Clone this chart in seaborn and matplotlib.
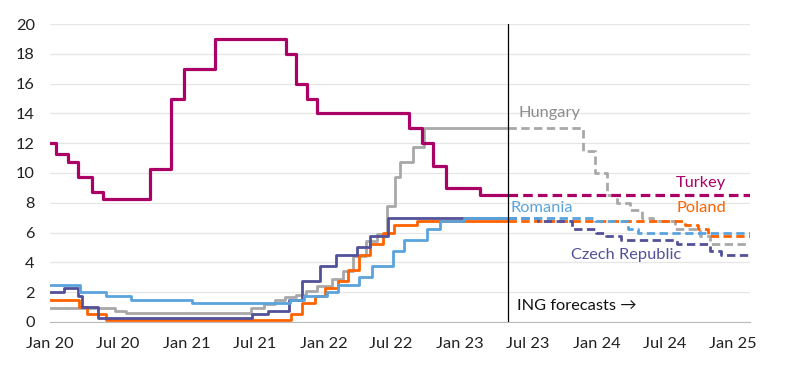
import pandas as pd
import seaborn as sns
import numpy as np
import matplotlib.pyplot as plt
import matplotlib.dates as mdates

# policy rate step changes (date the new rate applies, rate %)
turkey_dates = ['2020-01-01', '2020-01-16', '2020-02-19', '2020-03-17', '2020-04-22', '2020-05-21',
                '2020-09-24', '2020-11-19', '2020-12-24', '2021-03-18', '2021-09-23', '2021-10-21',
                '2021-11-18', '2021-12-16', '2022-08-18', '2022-09-22', '2022-10-20', '2022-11-24',
                '2023-02-23']
turkey_rates = [12.0, 11.25, 10.75, 9.75, 8.75, 8.25, 10.25, 15.0, 17.0, 19.0, 18.0, 16.0,
                15.0, 14.0, 13.0, 12.0, 10.5, 9.0, 8.5]
turkey_fc_dates = []
turkey_fc_rates = []

hungary_dates = ['2020-01-01', '2020-06-23', '2020-07-21', '2021-06-22', '2021-07-27', '2021-08-24',
                 '2021-09-21', '2021-10-19', '2021-11-16', '2021-12-14', '2022-01-25', '2022-02-22',
                 '2022-03-22', '2022-04-26', '2022-05-24', '2022-06-21', '2022-07-12', '2022-07-26',
                 '2022-08-30', '2022-09-27']
hungary_rates = [0.9, 0.75, 0.6, 0.9, 1.2, 1.5, 1.65, 1.8, 2.1, 2.4, 2.9, 3.4,
                 4.4, 5.4, 5.9, 7.75, 9.75, 10.75, 11.75, 13.0]
hungary_fc_dates = ['2023-11-27', '2023-12-28', '2024-01-29', '2024-02-26', '2024-03-31',
                    '2024-05-03', '2024-05-31', '2024-07-29', '2024-10-04', '2024-10-31']
hungary_fc_rates = [11.5, 10.0, 8.5, 8.0, 7.5, 7.0, 6.75, 6.25, 5.75, 5.25]

poland_dates = ['2020-01-01', '2020-03-18', '2020-04-09', '2020-05-29', '2021-10-07', '2021-11-04',
                '2021-12-09', '2022-01-05', '2022-02-09', '2022-03-09', '2022-04-07', '2022-05-06',
                '2022-06-09', '2022-07-08', '2022-09-08']
poland_rates = [1.5, 1.0, 0.5, 0.1, 0.5, 1.25, 1.75, 2.25, 2.75, 3.5, 4.5, 5.25, 6.0, 6.5, 6.75]
poland_fc_dates = ['2024-08-25', '2024-09-29', '2024-10-25']
poland_fc_rates = [6.5, 6.25, 5.75]

czech_dates = ['2020-01-01', '2020-02-07', '2020-03-17', '2020-03-27', '2020-05-08', '2021-06-24',
               '2021-08-06', '2021-10-01', '2021-11-04', '2021-12-23', '2022-02-04', '2022-04-01',
               '2022-05-06', '2022-06-23']
czech_rates = [2.0, 2.25, 1.75, 1.0, 0.25, 0.5, 0.75, 1.5, 2.75, 3.75, 4.5, 5.0, 5.75, 7.0]
czech_fc_dates = ['2023-07-28', '2023-10-29', '2024-01-01', '2024-01-28', '2024-03-08',
                  '2024-08-03', '2024-10-31', '2024-11-29']
czech_fc_rates = [6.75, 6.25, 6.0, 5.75, 5.5, 5.25, 4.75, 4.5]

romania_dates = ['2020-01-01', '2020-03-20', '2020-05-29', '2020-08-05', '2021-01-15', '2021-10-05',
                 '2021-11-09', '2022-01-11', '2022-02-09', '2022-04-06', '2022-05-11', '2022-07-06',
                 '2022-08-05', '2022-10-06', '2022-11-08', '2023-01-11']
romania_rates = [2.5, 2.0, 1.75, 1.5, 1.25, 1.5, 1.75, 2.0, 2.5, 3.0, 3.75, 4.75,
                 5.5, 6.25, 6.75, 7.0]
romania_fc_dates = ['2023-12-28', '2024-03-25', '2024-04-21']
romania_fc_rates = [6.75, 6.25, 6.0]

forecast_start = pd.Timestamp('2023-05-10')
end_date = pd.Timestamp('2025-02-15')

colors = {'Hungary': '#a8a8a8', 'Poland': '#ff6200', 'Czech Republic': '#525199',
          'Romania': '#5ba3dc', 'Turkey': '#ab0066'}

series = {
    'Hungary': (hungary_dates, hungary_rates, hungary_fc_dates, hungary_fc_rates),
    'Poland': (poland_dates, poland_rates, poland_fc_dates, poland_fc_rates),
    'Czech Republic': (czech_dates, czech_rates, czech_fc_dates, czech_fc_rates),
    'Romania': (romania_dates, romania_rates, romania_fc_dates, romania_fc_rates),
    'Turkey': (turkey_dates, turkey_rates, turkey_fc_dates, turkey_fc_rates),
}

sns.set_style('white')
plt.rcParams['font.family'] = ['Lato', 'DejaVu Sans']

fig = plt.figure(figsize=(8, 3.7), dpi=100)
ax = fig.add_axes([0.0625, 0.13, 0.875, 0.805])

for name, (d, r, fd, fr) in series.items():
    act = pd.DataFrame({'date': pd.to_datetime(d + [str(forecast_start.date())]),
                        'rate': r + [r[-1]]})
    fc = pd.DataFrame({'date': pd.to_datetime([str(forecast_start.date())] + fd + [str(end_date.date())]),
                       'rate': [r[-1]] + fr + [(fr or r)[-1]]})
    lw = 2.3 if name == 'Turkey' else 2.0
    sns.lineplot(data=act, x='date', y='rate', color=colors[name], lw=lw,
                 drawstyle='steps-post', estimator=None, ax=ax)
    sns.lineplot(data=fc, x='date', y='rate', color=colors[name], lw=lw,
                 drawstyle='steps-post', estimator=None, linestyle=(0, (3, 1.6)), ax=ax)

ax.axvline(forecast_start, color='black', lw=0.9)

ax.set_xlim(pd.Timestamp('2020-01-01'), end_date)
ax.set_ylim(0, 20)
ax.set_yticks(np.arange(0, 21, 2))
ax.set_xticks(pd.date_range('2020-01-01', '2025-01-01', freq='6MS'))
ax.xaxis.set_major_formatter(mdates.DateFormatter('%b %y'))
ax.set_xlabel('')
ax.set_ylabel('')
ax.grid(axis='y', color='#e6e6e6', lw=0.9)
ax.set_axisbelow(True)
for s in ['top', 'right', 'left']:
    ax.spines[s].set_visible(False)
ax.spines['bottom'].set_color('#bbbbbb')
ax.tick_params(axis='x', colors='#bbbbbb', length=5, width=0.9, pad=6, labelsize=11.8, labelcolor='#222222')
ax.tick_params(axis='y', length=0, pad=11, labelsize=11.8, labelcolor='#222222')

def dn(s):
    return mdates.date2num(pd.Timestamp(s))

fs = 11.8
ax.text(dn('2023-06-07'), 14.0, 'Hungary', color='#8c8c8c', fontsize=fs, ha='left', va='center')
ax.text(dn('2024-12-13'), 9.3, 'Turkey', color=colors['Turkey'], fontsize=fs, ha='right', va='center')
ax.text(dn('2024-12-13'), 7.65, 'Poland', color=colors['Poland'], fontsize=fs, ha='right', va='center')
ax.text(dn('2023-05-17'), 7.65, 'Romania', color=colors['Romania'], fontsize=fs, ha='left', va='center')
ax.text(dn('2023-10-26'), 4.5, 'Czech Republic', color=colors['Czech Republic'], fontsize=fs,
        ha='left', va='center')
ax.text(dn('2023-06-02'), 1.1, 'ING forecasts \u2192', color='#111111', fontsize=fs, ha='left', va='center')

fig.savefig('out.png', dpi=100)
